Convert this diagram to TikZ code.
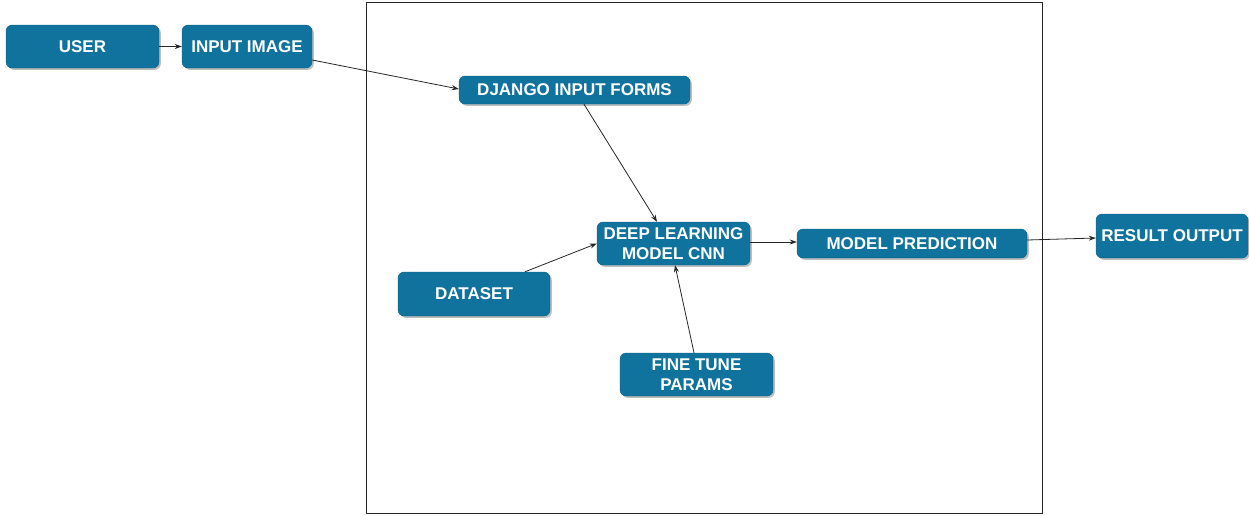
\documentclass[tikz,border=0pt]{standalone}
\usepackage{fontspec}
\setmainfont{Liberation Sans}
\usetikzlibrary{arrows.meta,shadows}
\definecolor{boxblue}{HTML}{10739E}
\begin{document}
\begin{tikzpicture}[x=1pt,y=-1pt,
  block/.style={rectangle, rounded corners=6pt, fill=boxblue, draw=boxblue!85!black, line width=0.4pt,
    text=white, font=\fontsize{17}{19.5}\selectfont\bfseries, align=center, inner sep=0pt,
    drop shadow={shadow xshift=1.8pt, shadow yshift=-1.8pt, fill=black, opacity=0.25}},
  link/.style={draw=black!85, line width=0.8pt, -{Stealth[length=7pt,width=5pt]}}]
  \useasboundingbox (0,0) rectangle (1249,515);
  % system boundary
  \draw[black!85, line width=0.8pt] (366,2) rectangle (1042,513);
  % blocks
  \node[block, minimum width=153pt, minimum height=43pt] (user)   at (82.5,46.5) {USER};
  \node[block, minimum width=130pt, minimum height=43pt] (img)    at (247,46.5) {INPUT IMAGE};
  \node[block, minimum width=231pt, minimum height=28pt] (django) at (574.5,90) {DJANGO INPUT FORMS};
  \node[block, minimum width=153pt, minimum height=43pt] (dl)     at (673.5,243.5) {DEEP LEARNING\\MODEL CNN};
  \node[block, minimum width=230pt, minimum height=29pt] (mp)     at (912,243.5) {MODEL PREDICTION};
  \node[block, minimum width=152pt, minimum height=44pt] (ro)     at (1172,236) {RESULT OUTPUT};
  \node[block, minimum width=152pt, minimum height=44pt] (ds)     at (474,294) {DATASET};
  \node[block, minimum width=153pt, minimum height=43pt] (ft)     at (696.5,374.5) {FINE TUNE\\PARAMS};
  % connectors
  \draw[link] (user) -- (img);
  \draw[link] ([yshift=-13.5pt]img.east) -- ([yshift=1pt]django.west);
  \draw[link] ([xshift=9.5pt]django.south) -- ([xshift=-16.5pt]dl.north);
  \draw[link] ([xshift=51pt]ds.north) -- (dl.west);
  \draw[link] ([xshift=-2.5pt]ft.north) -- ([xshift=1.5pt]dl.south);
  \draw[link] ([yshift=1.5pt]dl.east) -- ([yshift=1.5pt]mp.west);
  \draw[link] ([yshift=3.5pt]mp.east) -- ([yshift=-2pt]ro.west);
\end{tikzpicture}
\end{document}
